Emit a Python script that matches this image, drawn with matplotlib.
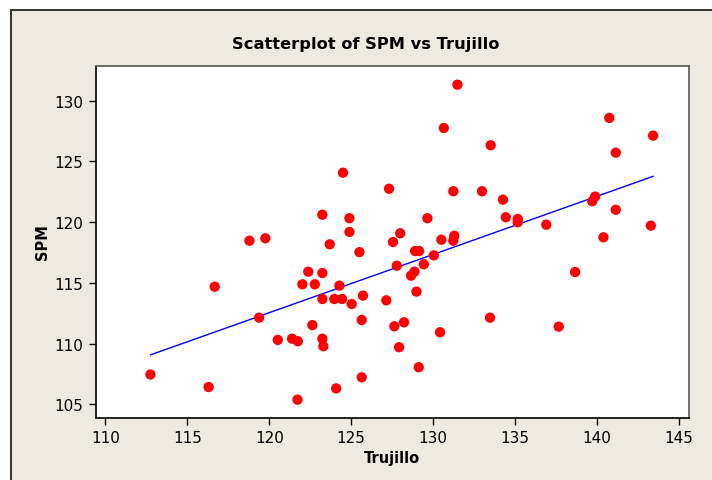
import numpy as np
import matplotlib
matplotlib.use("Agg")
import matplotlib.pyplot as plt
from matplotlib.patches import Rectangle
from matplotlib.lines import Line2D

trujillo = [112.75, 116.30, 116.67, 118.79, 119.76, 119.38, 120.52, 121.39, 121.74, 121.72,
            122.02, 122.38, 122.63, 122.78, 123.24, 123.24, 123.24, 123.24, 123.30, 123.69,
            123.97, 124.08, 124.28, 124.44, 124.50, 124.89, 124.89, 125.03, 125.50, 125.64,
            125.64, 125.72, 127.14, 127.31, 127.55, 127.63, 127.78, 127.92, 127.99, 128.22,
            128.65, 128.86, 128.90, 128.98, 129.12, 129.14, 129.43, 129.65, 130.04, 130.42,
            130.50, 130.65, 131.23, 131.23, 131.29, 131.48, 132.98, 133.47, 133.51, 134.26,
            134.43, 135.16, 135.16, 136.90, 137.66, 138.66, 139.71, 139.88, 140.39, 140.75,
            141.14, 141.14, 143.28, 143.42]
spm = [107.45, 106.42, 114.68, 118.47, 118.67, 112.13, 110.30, 110.40, 110.19, 105.38,
       114.88, 115.92, 111.52, 114.88, 120.61, 115.81, 113.67, 110.40, 109.78, 118.17,
       113.67, 106.31, 114.77, 113.67, 124.07, 120.32, 119.19, 113.26, 117.53, 111.94,
       107.22, 113.95, 113.56, 122.75, 118.36, 111.42, 116.41, 109.70, 119.08, 111.75,
       115.59, 115.92, 117.62, 114.28, 108.05, 117.62, 116.53, 120.32, 117.26, 110.93,
       118.55, 127.75, 122.54, 118.47, 118.88, 131.32, 122.54, 112.13, 126.33, 121.85,
       120.40, 120.26, 119.99, 119.79, 111.39, 115.89, 121.72, 122.10, 118.75, 128.58,
       125.72, 121.02, 119.71, 127.12]

x_ticks = [110, 115, 120, 125, 130, 135, 140, 145]
y_ticks = [105, 110, 115, 120, 125, 130]

x = np.array(trujillo)
y = np.array(spm)
slope, intercept = np.polyfit(x, y, 1)
x_fit = np.array([x.min(), x.max()])
y_fit = intercept + slope * x_fit

W, H = 712, 481
fig = plt.figure(figsize=(W / 100, H / 100), dpi=100)
fig.patch.set_facecolor("white")

# beige panel with dark top/left edges, kept behind the axes
edge = 10.5
fig.patches.append(Rectangle((edge / W, 0), 1, 1 - edge / H, transform=fig.transFigure,
                             facecolor="#EEEAE0", edgecolor="none", zorder=-10))
fig.lines.append(Line2D([edge / W, 1], [1 - edge / H, 1 - edge / H], transform=fig.transFigure,
                        color="#333333", lw=1.4, zorder=-9))
fig.lines.append(Line2D([edge / W, edge / W], [0, 1 - edge / H], transform=fig.transFigure,
                        color="#333333", lw=1.4, zorder=-9))

ax = fig.add_axes([95.7 / W, 1 - 419 / H, (689 - 95.7) / W, (419 - 66.7) / H])
ax.set_zorder(1)
ax.set_facecolor("white")
ax.scatter(x, y, s=55, color="#FF0000", edgecolors="none", zorder=3)
ax.plot(x_fit, y_fit, color="#0000FF", lw=1.0, zorder=2)

ax.set_xlim(109.41, 145.61)
ax.set_ylim(103.87, 132.88)
ax.set_xticks(x_ticks)
ax.set_yticks(y_ticks)
ax.tick_params(direction="out", length=5, width=1, labelsize=11, colors="black", pad=4)
for lab in ax.get_xticklabels() + ax.get_yticklabels():
    lab.set_fontfamily("DejaVu Sans")
for s in ax.spines.values():
    s.set_color("#555555")
    s.set_linewidth(1.2)
ax.spines["left"].set_color("black")
ax.spines["bottom"].set_color("black")

fig.text(366 / W, 1 - 44 / H, "Scatterplot of SPM vs Trujillo", ha="center", va="center",
         fontsize=11.7, fontweight="bold", family="DejaVu Sans")
fig.text(392 / W, 1 - 458 / H, "Trujillo", ha="center", va="center",
         fontsize=10.5, fontweight="bold", family="DejaVu Sans")
fig.text(42 / W, 1 - 242 / H, "SPM", ha="center", va="center", rotation=90,
         fontsize=10.5, fontweight="bold", family="DejaVu Sans")

fig.savefig("out.png", dpi=100, facecolor=fig.get_facecolor())
